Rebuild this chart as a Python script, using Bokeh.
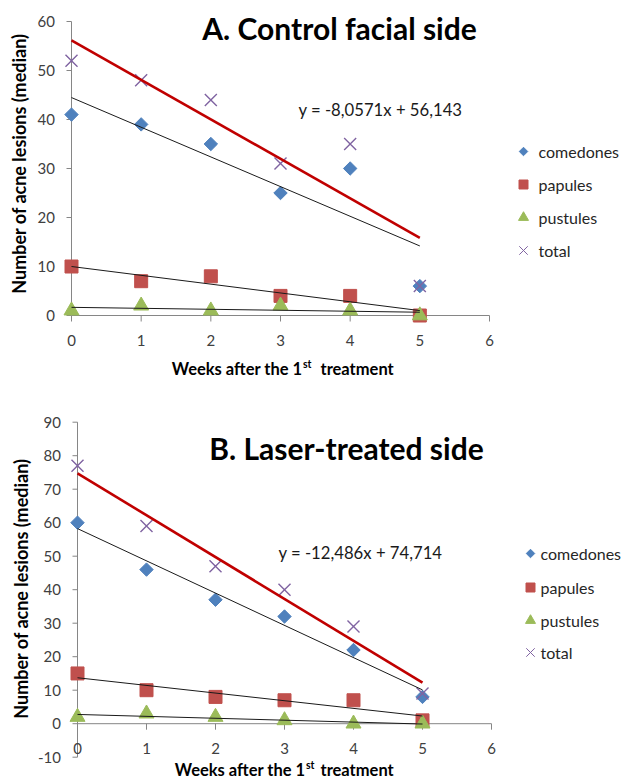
import numpy as np
from bokeh.plotting import figure
from bokeh.models import Range1d, Label
from bokeh.layouts import column
from bokeh.embed import file_html
from bokeh.resources import INLINE
from bokeh.core.properties import value

# ---------------- data ----------------
weeks = [0, 1, 2, 3, 4, 5]
series_names = ["comedones", "papules", "pustules", "total"]

control_comedones = [41, 39, 35, 25, 30, 6]
control_papules = [10, 7, 8, 4, 4, 0]
control_pustules = [1, 2, 1, 2, 1, 0]
control_total = [52, 48, 44, 31, 35, 6]

laser_comedones = [60, 46, 37, 32, 22, 8]
laser_papules = [15, 10, 8, 7, 7, 1]
laser_pustules = [2, 3, 2, 1, 0, 0]
laser_total = [77, 59, 47, 40, 29, 9]

x_ticks = [0, 1, 2, 3, 4, 5, 6]
x_tick_labels = ["0", "1", "2", "3", "4", "5", "6"]
control_y_ticks = [0, 10, 20, 30, 40, 50, 60]
control_y_tick_labels = ["0", "10", "20", "30", "40", "50", "60"]
laser_y_ticks = [-10, 0, 10, 20, 30, 40, 50, 60, 70, 80, 90]
laser_y_tick_labels = ["-10", "0", "10", "20", "30", "40", "50", "60", "70", "80", "90"]

control_title = "A. Control facial side"
laser_title = "B. Laser-treated side"
control_equation = "y = -8,0571x + 56,143"
laser_equation = "y = -12,486x + 74,714"
y_title = "Number of acne lesions (median)"
x_title_main = "Weeks after the 1"
x_title_sup = "st"
x_title_end = "treatment"

# ---------------- style ----------------
FONT = "Lato"
COLORS = {"comedones": "#4F81BD", "papules": "#C0504D",
          "pustules": "#9BBB59", "total": "#8064A2"}
MARKERS = {"comedones": dict(marker="square", angle=np.pi / 4, size=9.5),
           "papules": dict(marker="square", size=13),
           "pustules": dict(marker="triangle", size=15),
           "total": dict(marker="x", size=17, line_width=1.4)}
LEGEND_MARKERS = {"comedones": dict(marker="square", angle=np.pi / 4, size=6),
                  "papules": dict(marker="square", size=9),
                  "pustules": dict(marker="triangle", size=10),
                  "total": dict(marker="x", size=12, line_width=1)}
AXIS_GRAY = "#868686"
TEXT_GRAY = "#404040"
PAGE_LEFT = 0
PAGE_RIGHT = 627
FIG_W = PAGE_RIGHT - PAGE_LEFT


def make_chart(series, y_ticks, y_tick_labels, title, equation, L):
    top = L["fig_top"]
    bottom = L["fig_top"] + L["height"]

    def dx(px):
        return (px - L["x0"]) / L["ppx"]

    def dy(py):
        return L["yref_val"] + (L["yref_page"] - py) / L["ppy"]

    p = figure(width=FIG_W, height=L["height"],
               x_range=Range1d(dx(PAGE_LEFT), dx(PAGE_RIGHT)),
               y_range=Range1d(dy(bottom), dy(top)),
               output_backend="svg", toolbar_location=None,
               x_axis_location=None, y_axis_location=None,
               min_border=0, title_location=None)
    p.grid.visible = False
    p.outline_line_color = None
    p.background_fill_color = "white"
    p.border_fill_color = "white"

    # ---- axes (value axis at x = 0, category axis at y = 0) ----
    p.segment(x0=[0], y0=[y_ticks[0]], x1=[0], y1=[y_ticks[-1]],
              line_color=AXIS_GRAY, line_width=1)
    p.ray(x=[0] * len(y_ticks), y=y_ticks, length=5, length_units="screen",
          angle=np.pi, line_color=AXIS_GRAY, line_width=1)
    p.text(x=[0] * len(y_ticks), y=y_ticks, text=y_tick_labels, x_offset=-16.5,
           text_align="right", text_baseline="middle", text_font=value(FONT),
           text_font_size="15px", text_color=TEXT_GRAY)

    p.segment(x0=[x_ticks[0]], y0=[0], x1=[x_ticks[-1]], y1=[0],
              line_color=AXIS_GRAY, line_width=1)
    p.ray(x=x_ticks, y=[0] * len(x_ticks), length=6, length_units="screen",
          angle=-np.pi / 2, line_color=AXIS_GRAY, line_width=1)
    p.text(x=x_ticks, y=[0] * len(x_ticks), text=x_tick_labels, y_offset=24.5,
           text_align="center", text_baseline="middle", text_font=value(FONT),
           text_font_size="15px", text_color=TEXT_GRAY)

    # ---- data markers ----
    for name in series_names:
        c = COLORS[name]
        p.scatter(weeks, series[name], fill_color=c, line_color=c, **MARKERS[name])

    # ---- linear trend lines (least squares fits of the series) ----
    for name in series_names:
        slope, intercept = np.polyfit(weeks, series[name], 1)
        xs = [weeks[0], weeks[-1]]
        ys = [intercept + slope * x for x in xs]
        if name == "total":
            p.line(xs, ys, line_color="#C00000", line_width=2.6)
        else:
            p.line(xs, ys, line_color="#1a1a1a", line_width=1)

    # ---- legend ----
    lx = dx(L["leg_marker_x"])
    tx = dx(L["leg_text_x"])
    rows = [dy(r) for r in L["leg_rows"]]
    for name, ry in zip(series_names, rows):
        c = COLORS[name]
        p.scatter([lx], [ry], fill_color=c, line_color=c, **LEGEND_MARKERS[name])
    p.text(x=[tx] * len(rows), y=rows, text=series_names,
           text_font=value(FONT), text_font_size="16px",
           text_baseline="middle", text_align="left", text_color="#262626")

    # ---- chart title ----
    p.add_layout(Label(x=dx(L["title_xy"][0]), y=dy(L["title_xy"][1]), text=title,
                       text_font=FONT, text_font_size="30px", text_font_style="bold",
                       text_align="center", text_baseline="middle", text_color="black"))
    # ---- trendline equation ----
    p.add_layout(Label(x=dx(L["eq_xy"][0]), y=dy(L["eq_xy"][1]), text=equation,
                       text_font=FONT, text_font_size="16.7px",
                       text_align="left", text_baseline="middle", text_color="#1a1a1a"))
    # ---- x axis title with superscript ----
    xa, xt_left, xt_y = L["xtitle"]
    p.add_layout(Label(x=dx(xa), y=dy(xt_y), text=x_title_main,
                       text_font=FONT, text_font_size="16.5px", text_font_style="bold",
                       text_align="right", text_baseline="middle", text_color="black"))
    p.add_layout(Label(x=dx(xa + 0.5), y=dy(xt_y - 5), text=x_title_sup,
                       text_font=FONT, text_font_size="10.5px", text_font_style="bold",
                       text_align="left", text_baseline="middle", text_color="black"))
    p.add_layout(Label(x=dx(xt_left), y=dy(xt_y), text=x_title_end,
                       text_font=FONT, text_font_size="16.5px", text_font_style="bold",
                       text_align="left", text_baseline="middle", text_color="black"))
    # ---- y axis title ----
    p.add_layout(Label(x=dx(L["ytitle"][0]), y=dy(L["ytitle"][1]), text=y_title,
                       angle=np.pi / 2,
                       text_font=FONT, text_font_size="18px", text_font_style="bold",
                       text_align="center", text_baseline="middle", text_color="black"))
    return p


control_series = {"comedones": control_comedones, "papules": control_papules,
                  "pustules": control_pustules, "total": control_total}
laser_series = {"comedones": laser_comedones, "papules": laser_papules,
                "pustules": laser_pustules, "total": laser_total}

layout_a = dict(fig_top=0, height=378,
                x0=71, ppx=(489 - 71) / 6, yref_val=0, yref_page=315, ppy=(315 - 21) / 60,
                title_xy=(339, 27), eq_xy=(298, 109), xtitle=(302, 320, 368),
                ytitle=(18, 163), leg_marker_x=523, leg_text_x=538,
                leg_rows=[151, 184, 217, 250])
layout_b = dict(fig_top=378, height=400,
                x0=77, ppx=(491 - 77) / 6, yref_val=-10, yref_page=756.7, ppy=(756.7 - 421.7) / 100,
                title_xy=(346, 447), eq_xy=(278, 552), xtitle=(305, 320, 769),
                ytitle=(20, 588), leg_marker_x=530, leg_text_x=540,
                leg_rows=[553, 587, 620, 652])

pa = make_chart(control_series, control_y_ticks, control_y_tick_labels,
                control_title, control_equation, layout_a)
pb = make_chart(laser_series, laser_y_ticks, laser_y_tick_labels,
                laser_title, laser_equation, layout_b)

page = column(pa, pb, spacing=0)
open("out.html", "w").write(file_html(page, INLINE))
